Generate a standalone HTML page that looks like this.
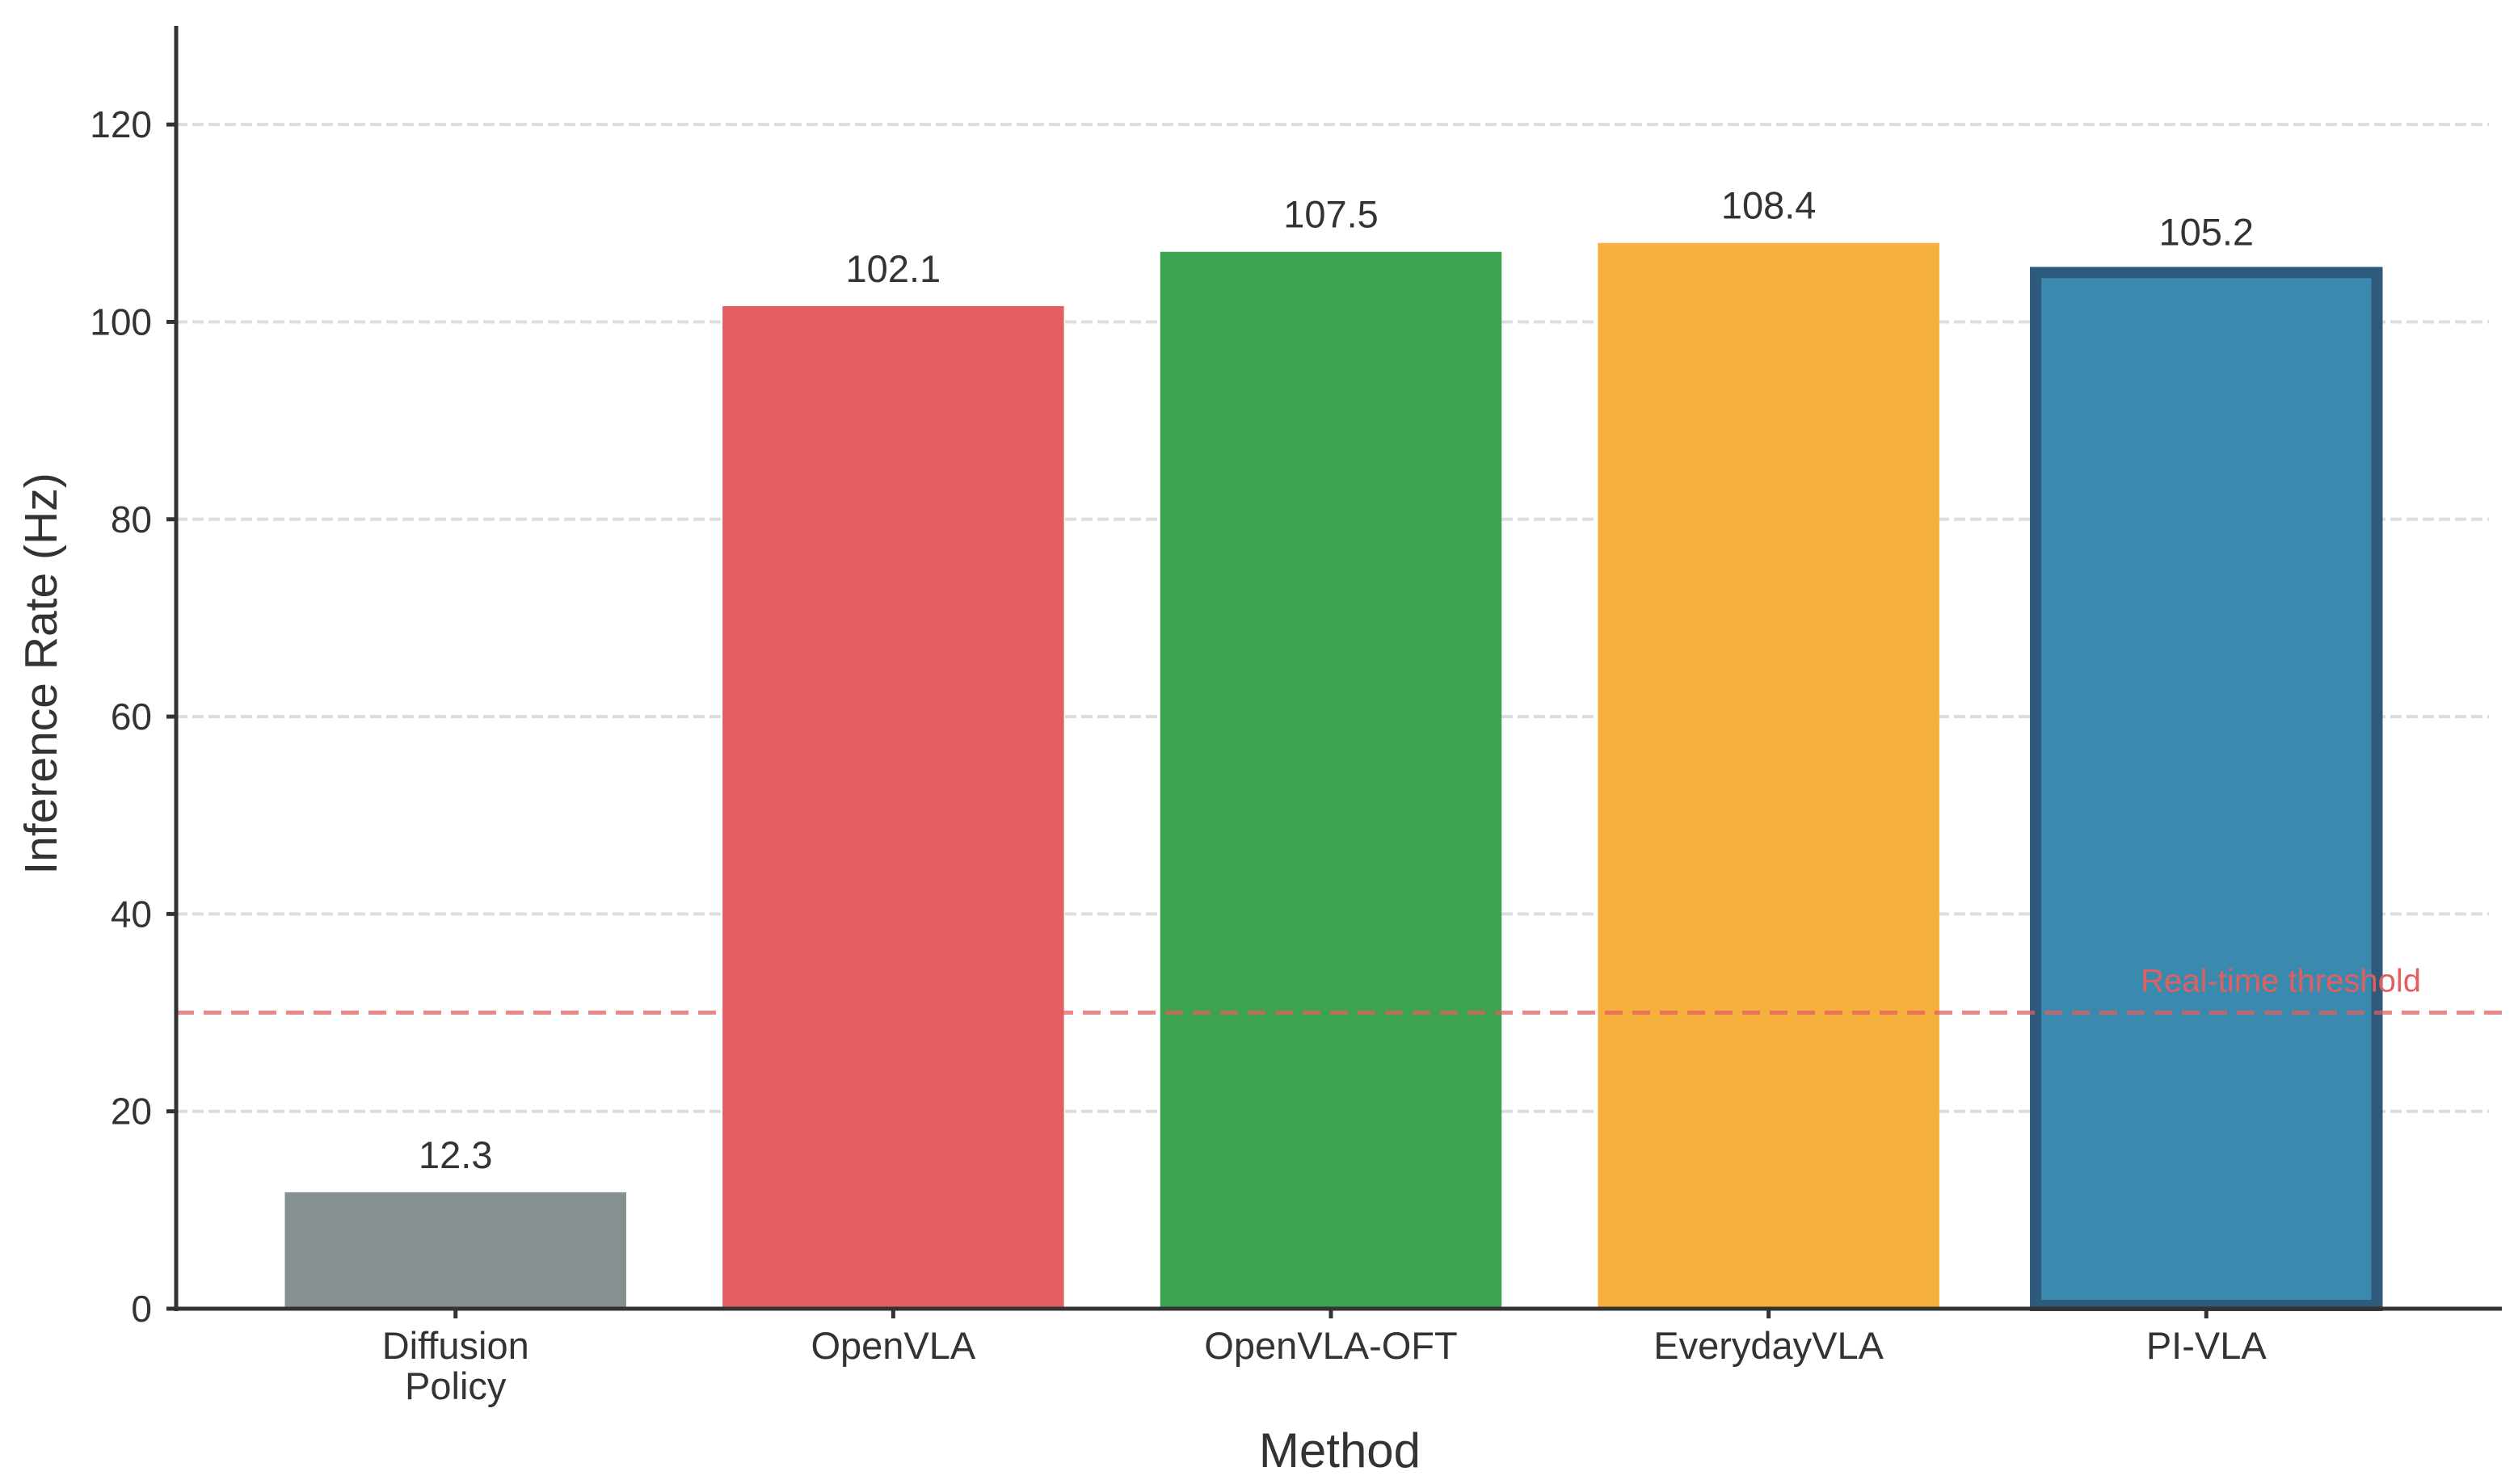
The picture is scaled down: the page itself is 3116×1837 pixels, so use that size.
<!DOCTYPE html>
<html><head><meta charset="utf-8"><style>
html,body{margin:0;padding:0;background:#fff;}
svg{display:block;font-family:"Liberation Sans",sans-serif;}
</style></head><body>
<svg id="chart" width="3116" height="1837" viewBox="0 0 3116 1837" xmlns="http://www.w3.org/2000/svg">
<g id="grid"></g>
<g id="bars"></g>
<g id="labels"></g>
<g id="axes"></g>
<text transform="translate(70,834) rotate(-90)" text-anchor="middle" font-size="57" fill="#333">Inference Rate (Hz)</text>
<text x="1658" y="1816" text-anchor="middle" font-size="60" fill="#333">Method</text>
</svg>
<script>
const categories = ["Diffusion|Policy","OpenVLA","OpenVLA-OFT","EverydayVLA","PI-VLA"];
const values = [11.8, 101.6, 107.1, 108.0, 105.0];
const valueLabels = ["12.3","102.1","107.5","108.4","105.2"];
const yTicks = [0,20,40,60,80,100,120];
const threshold = 30;
const colors = ["#879090","#e35f5f","#3ca350","#f5b03d","#3a8ab0"];

const NS="http://www.w3.org/2000/svg";
const X0=218, X1=3080, Y0=1620, YTOP=32, YMAX=130, XMIN=-0.642, XMAX=4.642;
const y = v => Y0 - (v/YMAX)*(Y0-YTOP);
const x = i => X0 - 2 + (i-XMIN)/(XMAX-XMIN)*(X1-X0);
const bw = 0.78*(x(1)-x(0));
function mk(tag, attrs, parent){const e=document.createElementNS(NS,tag);for(const k in attrs)e.setAttribute(k,attrs[k]);parent.appendChild(e);return e;}
const grid=document.getElementById('grid'), bars=document.getElementById('bars'), labels=document.getElementById('labels'), axes=document.getElementById('axes');

yTicks.forEach(t=>{
  if(t>0){const g=mk('line',{x1:X0,x2:X1,y1:y(t),y2:y(t),stroke:'#dddddd','stroke-width':4,'stroke-dasharray':'14 6'},grid);
  
  }
  const tk=mk('line',{x1:X0-12,x2:X0,y1:y(t),y2:y(t),stroke:'#333','stroke-width':5},axes);
  
  
  const tl=mk('text',{x:X0-30,y:y(t)+16,'text-anchor':'end','font-size':46,fill:'#333'},axes);
  
  
  tl.textContent=t;
});

values.forEach((v,i)=>{
  const cx=x(i);
  let r;
  if(i===4){
    r=mk('rect',{x:cx-bw/2,y:y(v),width:bw,height:Y0-y(v)-4,fill:colors[i],stroke:'#2f5a7c','stroke-width':14},bars);
  } else {
    r=mk('rect',{x:cx-bw/2,y:y(v),width:bw,height:Y0-y(v),fill:colors[i]},bars);
  }
  
  
  const lt=mk('text',{x:cx,y:y(v)-(i===4?34:30),'text-anchor':'middle','font-size':47,fill:'#333'},labels);
  
  
  lt.textContent=valueLabels[i];
  const tk=mk('line',{x1:cx,x2:cx,y1:Y0,y2:Y0+12,stroke:'#333','stroke-width':5},axes);
  
  
  categories[i].split('|').forEach((ln,j)=>{
    const xl=mk('text',{x:cx,y:Y0+62+j*50,'text-anchor':'middle','font-size':47,fill:'#333'},axes);
    
    
    xl.textContent=ln;
  });
});

const th=mk('line',{x1:X0,x2:X1+16,y1:y(threshold),y2:y(threshold),stroke:'#e35f5f','stroke-opacity':0.75,'stroke-width':5,'stroke-dasharray':'22 12'},labels);


const tt=mk('text',{x:2996,y:y(threshold)-26,'text-anchor':'end','font-size':40,fill:'#e35f5f'},labels);


tt.textContent='Real-time threshold';

const ya=mk('line',{x1:X0,x2:X0,y1:YTOP,y2:Y0+3,stroke:'#333','stroke-width':5},axes);


const xa=mk('line',{x1:X0-3,x2:X1+16,y1:Y0,y2:Y0,stroke:'#333','stroke-width':5},axes);


</script>
</body></html>
